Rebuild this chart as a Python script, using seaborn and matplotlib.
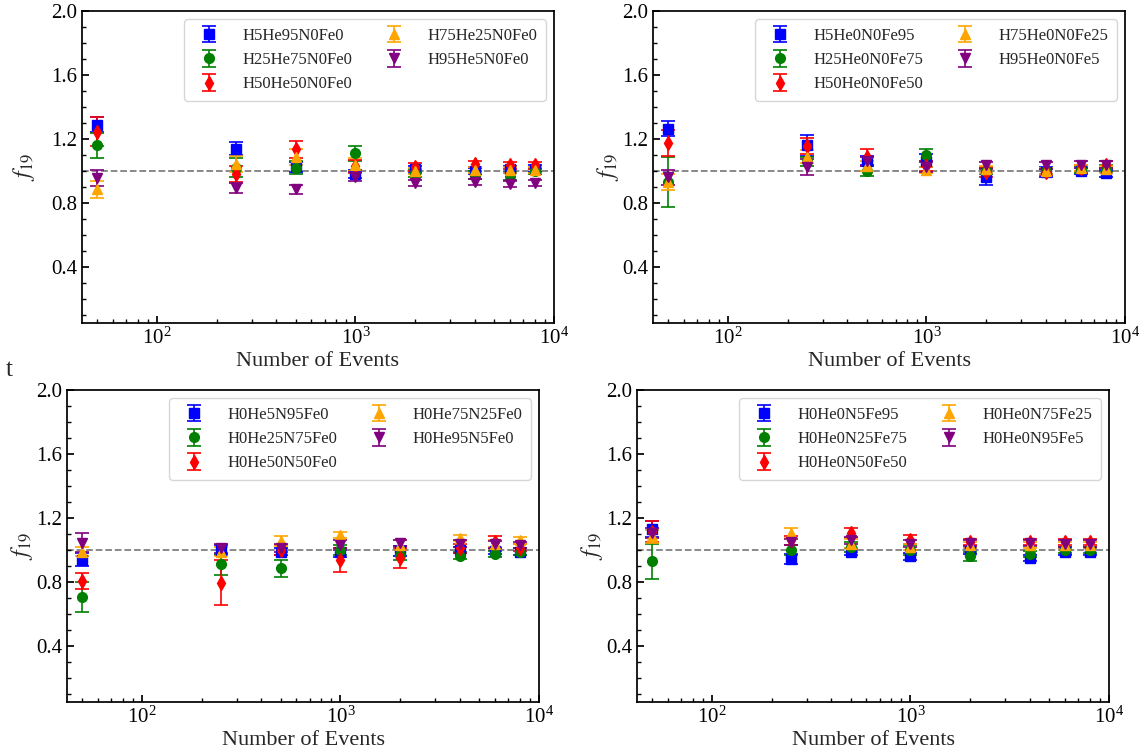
import numpy as np
import pandas as pd
import matplotlib
matplotlib.use("Agg")
import matplotlib.pyplot as plt
import seaborn as sns
from matplotlib.ticker import MultipleLocator

# ==========================================================
# Data
# ==========================================================

n_events = [50, 250, 500, 1000, 2000, 4000, 6000, 8000]

colors = ["blue", "green", "red", "orange", "purple"]
markers = ["s", "o", "d", "^", "v"]

# panel 1 : H / He
labels_hhe = ["H5He95N0Fe0", "H25He75N0Fe0", "H50He50N0Fe0", "H75He25N0Fe0", "H95He5N0Fe0"]
f19_hhe = [
    [1.29, 1.14, 1.025, 0.98, 1.01, 1.00, 1.01, 1.015],
    [1.16, 1.02, 1.02, 1.11, 0.99, 0.975, 0.97, 1.00],
    [1.245, 0.98, 1.135, 1.03, 1.025, 1.045, 1.035, 1.035],
    [0.885, 1.045, 1.085, 1.04, 1.00, 1.005, 1.005, 1.005],
    [0.955, 0.895, 0.885, 0.965, 0.925, 0.93, 0.92, 0.925],
]
err_hhe = [
    [0.045, 0.04, 0.03, 0.025, 0.02, 0.02, 0.02, 0.02],
    [0.08, 0.06, 0.04, 0.045, 0.025, 0.025, 0.025, 0.02],
    [0.09, 0.05, 0.055, 0.04, 0.025, 0.02, 0.02, 0.02],
    [0.055, 0.05, 0.05, 0.04, 0.02, 0.02, 0.02, 0.02],
    [0.05, 0.03, 0.03, 0.03, 0.02, 0.02, 0.02, 0.02],
]

# panel 2 : H / Fe
labels_hfe = ["H5He0N0Fe95", "H25He0N0Fe75", "H50He0N0Fe50", "H75He0N0Fe25", "H95He0N0Fe5"]
f19_hfe = [
    [1.265, 1.16, 1.065, 1.065, 0.965, 0.995, 1.00, 0.985],
    [0.93, 1.06, 1.00, 1.10, 1.00, 1.00, 1.01, 1.015],
    [1.175, 1.155, 1.085, 1.03, 0.995, 0.995, 1.02, 1.04],
    [0.93, 1.09, 1.03, 1.005, 1.01, 1.00, 1.02, 1.01],
    [0.96, 1.025, 1.06, 1.025, 1.035, 1.035, 1.04, 1.04],
]
err_hfe = [
    [0.045, 0.065, 0.03, 0.04, 0.055, 0.03, 0.02, 0.02],
    [0.155, 0.03, 0.03, 0.04, 0.02, 0.02, 0.02, 0.02],
    [0.08, 0.05, 0.055, 0.03, 0.03, 0.02, 0.02, 0.02],
    [0.05, 0.04, 0.03, 0.02, 0.02, 0.02, 0.02, 0.02],
    [0.045, 0.05, 0.03, 0.03, 0.02, 0.02, 0.02, 0.02],
]

# panel 3 : He / N
labels_hen = ["H0He5N95Fe0", "H0He25N75Fe0", "H0He50N50Fe0", "H0He75N25Fe0", "H0He95N5Fe0"]
f19_hen = [
    [0.94, 1.00, 0.99, 0.985, 0.995, 1.00, 0.995, 0.99],
    [0.705, 0.91, 0.885, 1.00, 0.97, 0.965, 0.975, 0.99],
    [0.805, 0.795, 1.00, 0.935, 0.95, 1.01, 1.05, 1.015],
    [0.99, 0.99, 1.055, 1.095, 1.03, 1.075, 1.04, 1.06],
    [1.045, 1.01, 1.01, 1.03, 1.045, 1.04, 1.035, 1.03],
]
err_hen = [
    [0.04, 0.03, 0.02, 0.03, 0.03, 0.02, 0.02, 0.02],
    [0.095, 0.065, 0.055, 0.03, 0.03, 0.02, 0.02, 0.02],
    [0.05, 0.14, 0.03, 0.075, 0.06, 0.03, 0.04, 0.02],
    [0.03, 0.03, 0.03, 0.02, 0.03, 0.02, 0.02, 0.02],
    [0.06, 0.03, 0.025, 0.03, 0.02, 0.02, 0.02, 0.02],
]

# panel 4 : N / Fe
labels_nfe = ["H0He0N5Fe95", "H0He0N25Fe75", "H0He0N50Fe50", "H0He0N75Fe25", "H0He0N95Fe5"]
f19_nfe = [
    [1.13, 0.945, 0.99, 0.96, 0.995, 0.95, 0.99, 0.99],
    [0.93, 1.00, 1.02, 1.00, 0.96, 0.975, 1.00, 1.00],
    [1.115, 1.06, 1.105, 1.065, 1.05, 1.05, 1.05, 1.05],
    [1.085, 1.105, 1.04, 1.02, 1.03, 1.03, 1.03, 1.03],
    [1.105, 1.05, 1.06, 1.04, 1.045, 1.045, 1.04, 1.04],
]
err_nfe = [
    [0.05, 0.03, 0.02, 0.02, 0.02, 0.02, 0.02, 0.02],
    [0.11, 0.03, 0.03, 0.03, 0.03, 0.02, 0.02, 0.02],
    [0.065, 0.03, 0.03, 0.03, 0.02, 0.02, 0.02, 0.02],
    [0.04, 0.03, 0.03, 0.02, 0.02, 0.02, 0.02, 0.02],
    [0.03, 0.02, 0.02, 0.02, 0.02, 0.02, 0.02, 0.02],
]

# ==========================================================
# Style
# ==========================================================

sns.set_theme(style="ticks")
plt.rcParams["font.family"] = ["Liberation Serif", "DejaVu Serif"]
plt.rcParams["mathtext.fontset"] = "stix"
plt.rcParams["axes.edgecolor"] = "black"
plt.rcParams["xtick.color"] = "black"
plt.rcParams["ytick.color"] = "black"

W, H = 1144, 756
fig = plt.figure(figsize=(W / 100, H / 100), dpi=100)

# axes positions in pixels: (left, top), plus y-label pad
ax_w, ax_h = 472, 312
positions = [(82, 11), (653, 11), (67, 390), (637, 390)]
ylabel_pads = [10, 1, 1, 1]

panels = [
    (labels_hhe, f19_hhe, err_hhe),
    (labels_hfe, f19_hfe, err_hfe),
    (labels_hen, f19_hen, err_hen),
    (labels_nfe, f19_nfe, err_nfe),
]

for (left, top), pad, (labels, values, errors) in zip(positions, ylabel_pads, panels):
    ax = fig.add_axes([left / W, 1 - (top + ax_h) / H, ax_w / W, ax_h / H])

    df = pd.DataFrame({
        "events": np.tile(n_events, len(labels)),
        "f19": np.concatenate(values),
        "err": np.concatenate(errors),
        "mix": np.repeat(labels, len(n_events)),
    })

    for lab, col, mk in zip(labels, colors, markers):
        sub = df[df["mix"] == lab]
        ax.errorbar(
            sub["events"], sub["f19"], yerr=sub["err"],
            fmt=mk, color=col, ecolor=col, ms=7, capsize=5,
            elinewidth=1.2, capthick=1.2, label=lab
        )

    ax.axhline(1.0, color="gray", linestyle="--", linewidth=1.3, zorder=0)

    ax.set_xscale("log")
    ax.set_xlim(42, 1e4)
    ax.set_ylim(0.05, 2.0)
    ax.set_yticks([0.4, 0.8, 1.2, 1.6, 2.0])
    ax.yaxis.set_minor_locator(MultipleLocator(0.1))
    ax.tick_params(which="both", direction="in", top=False, right=False,
                   labelsize=15)
    ax.tick_params(which="major", length=5)
    ax.tick_params(which="minor", length=3)

    ax.set_xlabel("Number of Events", fontsize=16, labelpad=2)
    ax.set_ylabel("$f_{19}$", fontsize=17, labelpad=pad)

    ax.legend(loc="upper right", ncol=2, fontsize=12, frameon=True,
              columnspacing=1.5, handletextpad=1.0, borderpad=0.5)

fig.text(6 / W, 1 - 376 / H, "t", fontsize=18)

plt.savefig("out.png", dpi=100)
